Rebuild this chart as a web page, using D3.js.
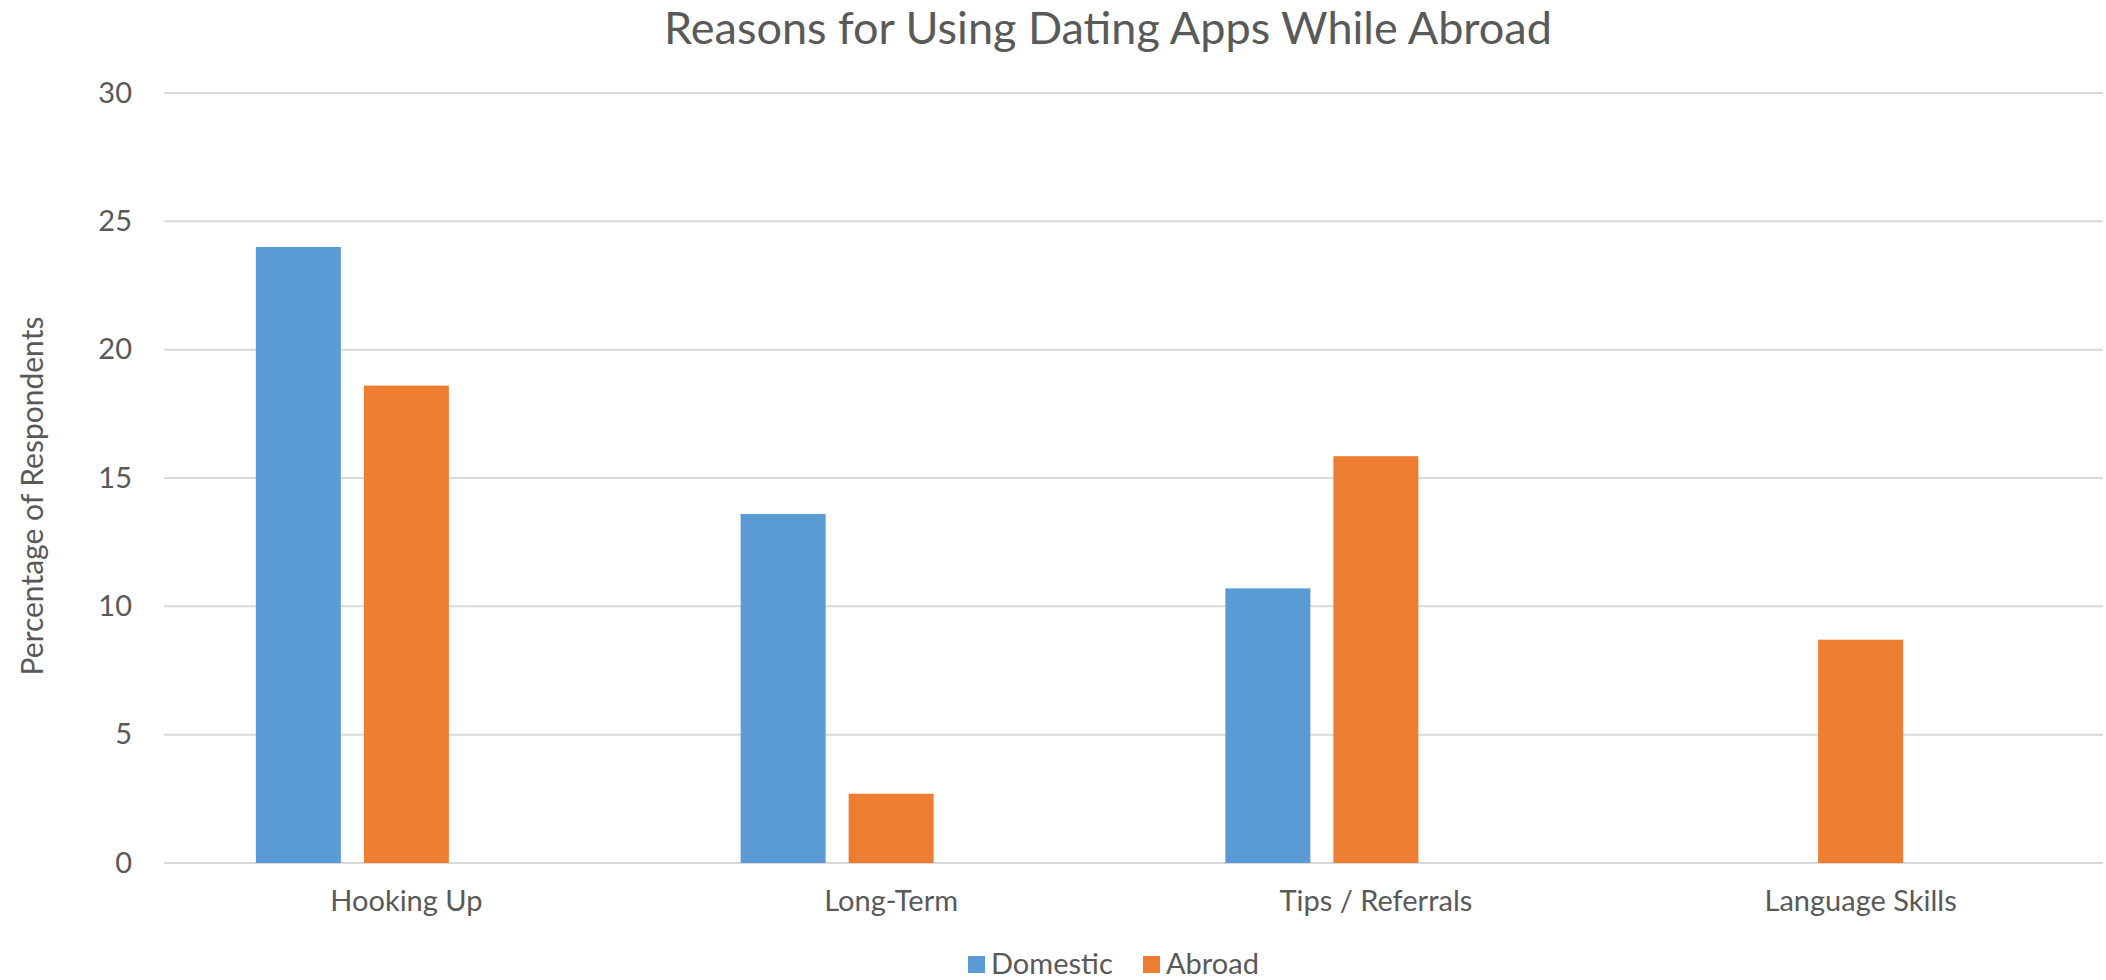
<!DOCTYPE html>
<html>
<head>
<meta charset="utf-8">
<script src="https://cdn.jsdelivr.net/npm/d3@7"></script>
<style>
body { margin: 0; background: #fff; }
text { font-family: Lato, "Open Sans", sans-serif; fill: #595959; }
.grid line { stroke: #d9d9d9; stroke-width: 2px; }
</style>
</head>
<body>
<svg width="2106" height="980"></svg>
<script>

// data
var categories = ["Hooking Up", "Long-Term", "Tips / Referrals", "Language Skills"];
var seriesNames = ["Domestic", "Abroad"];
var domestic = [24, 13.6, 10.7, 0];
var abroad = [18.6, 2.7, 15.85, 8.7];
var yTicks = [0, 5, 10, 15, 20, 25, 30];
var colors = ["#5b9bd5", "#ed7d31"];

var svg = d3.select("svg"),
	plotLeft = 164, plotRight = 2103, plotTop = 93, plotBottom = 863;

var x0 = d3.scaleBand()
	.domain(categories)
	.range([plotLeft, plotRight]);

// three slots per group, the third one is empty in the original
var groupWidth = 301;
var x1 = d3.scaleBand()
	.domain(seriesNames.concat(["_empty"]))
	.range([0, groupWidth])
	.paddingInner(23 / 108);

var y = d3.scaleLinear()
	.domain([0, 30])
	.range([plotBottom, plotTop]);

// gridlines
svg.append("g")
	.attr("class", "grid")
	.selectAll("line")
	.data(yTicks)
	.enter().append("line")
	.attr("x1", plotLeft)
	.attr("x2", plotRight)
	.attr("y1", function(d) { return y(d); })
	.attr("y2", function(d) { return y(d); });

// y axis labels
var yAxis = svg.append("g")
	.attr("transform", "translate(" + 132 + ",0)")
	.call(d3.axisLeft(y).tickValues(yTicks).tickSize(0).tickPadding(0));
yAxis.select(".domain").remove();
yAxis.selectAll("text")
	.attr("font-family", "Lato, sans-serif")
	.attr("font-size", "29px")
	.attr("fill", "#595959");

// x axis labels
var xAxis = svg.append("g")
	.attr("transform", "translate(0," + plotBottom + ")")
	.call(d3.axisBottom(x0).tickSize(0).tickPadding(27));
xAxis.select(".domain").remove();
xAxis.selectAll("text")
	.attr("font-family", "Lato, sans-serif")
	.attr("font-size", "29px")
	.attr("fill", "#595959");

// bars
var rows = categories.map(function(c, i) {
	return { cat: c, values: [domestic[i], abroad[i]] };
});

var groups = svg.append("g")
	.selectAll("g")
	.data(rows)
	.enter().append("g")
	.attr("transform", function(d) {
		return "translate(" + (x0(d.cat) + (x0.bandwidth() - groupWidth) / 2) + ",0)";
	});

groups.selectAll("rect")
	.data(function(d) {
		return d.values.map(function(v, j) { return { name: seriesNames[j], value: v, i: j }; });
	})
	.enter().append("rect")
	.attr("x", function(d) { return x1(d.name); })
	.attr("width", x1.bandwidth())
	.attr("y", function(d) { return y(d.value); })
	.attr("height", function(d) { return plotBottom - y(d.value); })
	.attr("fill", function(d) { return colors[d.i]; });

// title
svg.append("text")
	.attr("x", 1108)
	.attr("y", 44)
	.attr("text-anchor", "middle")
	.attr("font-size", "45px")
	.text("Reasons for Using Dating Apps While Abroad");

// y axis title
svg.append("text")
	.attr("transform", "translate(43,496) rotate(-90)")
	.attr("text-anchor", "middle")
	.attr("font-size", "30px")
	.text("Percentage of Respondents");

// legend
var legendX = [968, 1143];
var legend = svg.append("g")
	.selectAll("g")
	.data(seriesNames)
	.enter().append("g")
	.attr("transform", function(d, i) { return "translate(" + legendX[i] + ",956)"; });

legend.append("rect")
	.attr("width", 17)
	.attr("height", 17)
	.attr("fill", function(d, i) { return colors[i]; });

legend.append("text")
	.attr("x", 23)
	.attr("y", 18)
	.attr("font-size", "29px")
	.text(function(d) { return d; });

</script>
</body>
</html>
